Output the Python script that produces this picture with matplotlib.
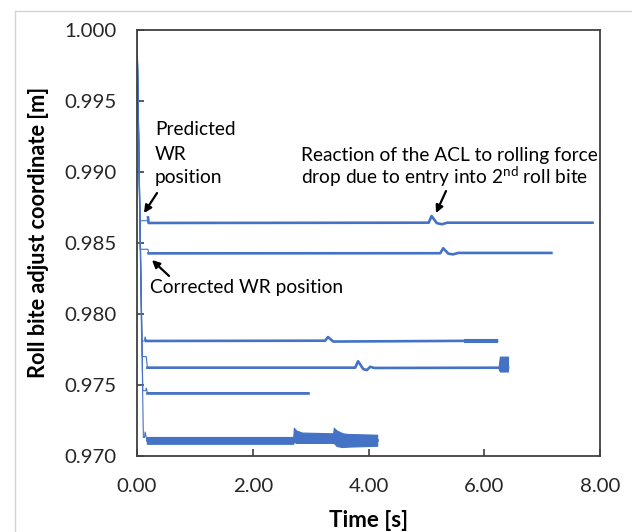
import matplotlib
matplotlib.use('Agg')
import matplotlib.pyplot as plt
from matplotlib.lines import Line2D
from matplotlib.ticker import FormatStrFormatter

plt.rcParams['font.family'] = ['Lato', 'DejaVu Sans']
plt.rcParams['mathtext.fontset'] = 'custom'
plt.rcParams['mathtext.rm'] = 'Lato'

# Roll bite adjust coordinate, one curve per pass (time in s, position in m)
s1_t = [0, 0.05, 0.18, 0.19, 0.20, 5.04, 5.09, 5.18, 5.27, 5.36, 7.87]
s1_v = [1.0, 0.98657, 0.98657, 0.98680, 0.98641, 0.98643, 0.98690, 0.98640, 0.98632, 0.98643, 0.98643]
s2_t = [0, 0.055, 0.19, 0.20, 5.24, 5.29, 5.38, 5.46, 5.55, 7.16]
s2_v = [1.0, 0.98456, 0.98456, 0.98427, 0.98428, 0.98463, 0.98425, 0.98420, 0.98430, 0.98430]
s3_t = [0, 0.08, 0.13, 0.14, 0.16, 3.25, 3.30, 3.39, 6.22]
s3_v = [1.0, 0.97810, 0.97810, 0.97840, 0.97810, 0.97812, 0.97838, 0.97806, 0.97812]
s4_t = [0, 0.09, 0.16, 0.18, 3.77, 3.82, 3.91, 3.97, 4.03, 4.10, 6.41]
s4_v = [1.0, 0.97700, 0.97700, 0.97622, 0.97622, 0.97667, 0.97612, 0.97605, 0.97628, 0.97620, 0.97622]
s5_t = [0, 0.10, 0.15, 0.16, 0.18, 2.96]
s5_v = [1.0, 0.97460, 0.97460, 0.97480, 0.97446, 0.97446]
s6_t = [0, 0.11, 0.13, 0.14, 0.17, 4.15]
s6_v = [1.0, 0.97130, 0.97130, 0.97171, 0.97110, 0.97110]

# time from which each curve is in the steady (noisy) part
settle = [0.19, 0.20, 0.16, 0.18, 0.18, 0.17]

# envelopes of the strongly oscillating parts
b3_t = [5.65, 6.22]
b3_lo = [0.97800, 0.97800]
b3_hi = [0.97824, 0.97824]
b4_t = [6.25, 6.27, 6.41]
b4_lo = [0.97610, 0.97595, 0.97595]
b4_hi = [0.97635, 0.97700, 0.97700]
b6_t = [0.17, 2.70, 2.71, 2.75, 2.85, 3.39, 3.40, 3.45, 3.55, 3.65, 4.15]
b6_lo = [0.97086, 0.97086, 0.97100, 0.97092, 0.97092, 0.97092, 0.97092, 0.97070, 0.97063, 0.97066, 0.97072]
b6_hi = [0.97134, 0.97134, 0.97199, 0.97180, 0.97165, 0.97160, 0.97199, 0.97180, 0.97160, 0.97155, 0.97150]

xticks = [0, 2, 4, 6, 8]
yticks = [0.970, 0.975, 0.980, 0.985, 0.990, 0.995, 1.000]

BLUE = '#4472C4'
W, H = 632, 532

fig = plt.figure(figsize=(W / 100, H / 100), dpi=100)
ax = fig.add_axes([137 / W, 1 - 456 / H, 463 / W, 426 / H])

series = [(s1_t, s1_v), (s2_t, s2_v), (s3_t, s3_v), (s4_t, s4_v), (s5_t, s5_v), (s6_t, s6_v)]
for (t, v), ts in zip(series, settle):
    ax.plot(t, v, color=BLUE, lw=0.8, solid_joinstyle='miter')
    tt = [a for a in t if a >= ts]
    vv = [b for a, b in zip(t, v) if a >= ts]
    ax.plot(tt, vv, color=BLUE, lw=1.9)

for bt, lo, hi in [(b3_t, b3_lo, b3_hi), (b4_t, b4_lo, b4_hi), (b6_t, b6_lo, b6_hi)]:
    ax.fill_between(bt, lo, hi, color=BLUE, lw=0.8, edgecolor=BLUE)

ax.set_xlim(0, 8)
ax.set_ylim(0.970, 1.000)
ax.set_xticks(xticks)
ax.set_yticks(yticks)
ax.xaxis.set_major_formatter(FormatStrFormatter('%.2f'))
ax.yaxis.set_major_formatter(FormatStrFormatter('%.3f'))
ax.tick_params(direction='in', length=5, width=1.2, color='#404040',
               labelsize=14.7, labelcolor='#262626')
ax.tick_params(axis='x', pad=15.5)
ax.tick_params(axis='y', pad=15)
for sp in ax.spines.values():
    sp.set_color('#404040')
    sp.set_linewidth(1.3)

ax.set_xlabel('Time [s]', fontsize=16, fontweight='bold')
ax.set_ylabel('Roll bite adjust coordinate [m]', fontsize=15.7, fontweight='bold')
ax.xaxis.set_label_coords(0.5, -0.127)
ax.yaxis.set_label_coords(-0.19, 0.525)

# annotations (text lines placed on their baselines)
arrow = dict(arrowstyle='-|>', color='black', lw=1.6, mutation_scale=11, shrinkA=0, shrinkB=0)
fs = 13.8
for s, y in [('Predicted', 0.992606), ('WR', 0.990845), ('position', 0.989225)]:
    ax.text(0.31, y, s, fontsize=fs, va='baseline', ha='left')
ax.annotate('', xy=(0.121, 0.98711), xytext=(0.346, 0.98852), arrowprops=arrow)
ax.text(0.225, 0.981500, 'Corrected WR position', fontsize=fs, va='baseline', ha='left')
ax.annotate('', xy=(0.259, 0.98380), xytext=(0.553, 0.98268), arrowprops=arrow)
ax.text(2.83, 0.990796, 'Reaction of the ACL to rolling force',
        fontsize=fs, va='baseline', ha='left')
ax.text(2.83, 0.989190, 'drop due to entry into 2$^{\\mathrm{nd}}$ roll bite',
        fontsize=fs, va='baseline', ha='left')
ax.annotate('', xy=(5.166, 0.98711), xytext=(5.339, 0.98866), arrowprops=arrow)

# light frame of the original picture
fig.add_artist(Line2D([15 / W, 15 / W], [0, 1 - 11 / H], color='#d4d4d4', lw=1,
                      transform=fig.transFigure))
fig.add_artist(Line2D([15 / W, 1], [1 - 11 / H, 1 - 11 / H], color='#d4d4d4', lw=1,
                      transform=fig.transFigure))

fig.savefig('out.png', dpi=100)
